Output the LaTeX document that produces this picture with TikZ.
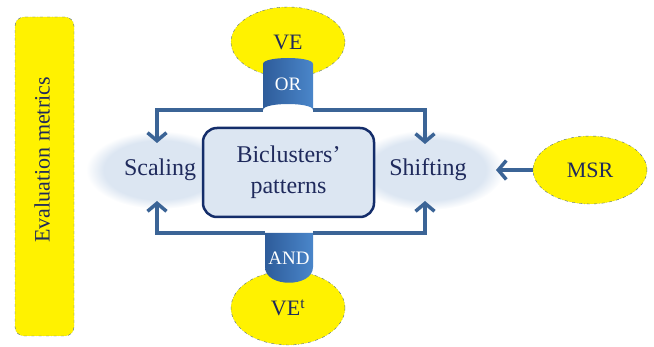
\documentclass[tikz,border=0pt]{standalone}
\usepackage{fontspec}
\setmainfont{Liberation Serif}
\usepackage{tikz}
\usetikzlibrary{shapes.geometric,arrows.meta,positioning}
\definecolor{navytext}{HTML}{1F2A5C}
\definecolor{flowblue}{HTML}{3B6496}
\definecolor{glowblue}{HTML}{DCE6F2}
\definecolor{tabdark}{HTML}{2E5C9A}
\definecolor{tablight}{HTML}{4A86CA}
\definecolor{boxnavy}{HTML}{142D6A}
\definecolor{rimgrey}{HTML}{4F6A8C}
\pgfdeclareradialshading{glow}{\pgfpoint{0bp}{0bp}}{color(0bp)=(glowblue); color(19bp)=(glowblue); color(25bp)=(white); color(50bp)=(white)}
\newcommand{\bigfont}{\fontsize{24}{31}\selectfont}
\newcommand{\midtext}[1]{{\fontsize{22}{25}\selectfont\color{navytext}#1}}
\newcommand{\tabtext}[1]{{\fontsize{19}{21}\selectfont\color{white}#1}}

\begin{document}
\begin{tikzpicture}[x=1pt,y=-1pt,
    yellowblob/.style={ellipse, draw=rimgrey, dash dot, fill=yellow, inner sep=0pt, outer sep=0pt},
    glowblob/.style={ellipse, shading=glow, inner sep=0pt, outer sep=0pt},
    flow/.style={draw=flowblue, line width=3.5pt, -{Straight Barb[length=8pt,width=19pt]}},
    tabbox/.style={minimum width=50pt, minimum height=52pt, inner sep=0pt, outer sep=0pt},
    ortab/.style={tabbox, path picture={\shade[left color=tabdark, right color=tablight]
        (path picture bounding box.south west) -- ([yshift=-6pt]path picture bounding box.north west)
        .. controls ([yshift=2pt]path picture bounding box.north west) and ([yshift=2pt]path picture bounding box.north east)
        .. ([yshift=-6pt]path picture bounding box.north east) -- (path picture bounding box.south east)
        .. controls ([yshift=8pt]path picture bounding box.south east) and ([yshift=8pt]path picture bounding box.south west)
        .. cycle;}},
    andtab/.style={tabbox, minimum width=48pt, minimum height=50pt, path picture={\shade[left color=tabdark, right color=tablight]
        (path picture bounding box.north west) -- ([yshift=16pt]path picture bounding box.south west)
        .. controls ([yshift=-5pt]path picture bounding box.south west) and ([yshift=-5pt]path picture bounding box.south east)
        .. ([yshift=16pt]path picture bounding box.south east) -- (path picture bounding box.north east) -- cycle;}}]
\useasboundingbox (0,0) rectangle (654,347);

% side panel
\node[draw=rimgrey, dash dot, fill=yellow, rounded corners=9pt, minimum width=59pt, minimum height=319pt] (metricsbox) at (44.5,176.5) {};
\node[rotate=90] (metrics) at (42,160) {\midtext{Evaluation metrics}};

% patterns in the middle
\node[glowblob, minimum width=148pt, minimum height=78pt] (scaling) at (160,170) {};
\node[glowblob, minimum width=152pt, minimum height=80pt] (shifting) at (428,170) {};
\node[draw=boxnavy, line width=2.5pt, fill=glowblue, rounded corners=14pt, minimum width=171pt, minimum height=89pt,
      align=center, font=\bigfont, text=navytext] (patterns) at (288.5,172.5) {Biclusters’\\patterns};
\node[font=\bigfont, text=navytext] at (scaling) {Scaling};
\node[font=\bigfont, text=navytext] at (shifting) {Shifting};

% metrics
\node[yellowblob, minimum width=114pt, minimum height=70pt] (ve) at (288,42) {\midtext{VE}};
\node[yellowblob, minimum width=114pt, minimum height=74pt] (vet) at (288,308) {\midtext{VE\textsuperscript{t}}};
\node[yellowblob, minimum width=114pt, minimum height=68pt] (msr) at (590,170) {\midtext{MSR}};

\node[ortab] (or) at (288,84) {\tabtext{OR}};
\node[andtab] (and) at (289,258) {\tabtext{AND}};

\draw[flow] (or.south west) -| ([xshift=-3pt,yshift=-12pt]scaling.north);
\draw[flow] (or.south east) -| ([xshift=-3pt,yshift=-14pt]shifting.north);
\draw[flow] (and.north west) -| ([xshift=-3pt,yshift=8pt]scaling.south);
\draw[flow] (and.north east) -| ([xshift=-3pt,yshift=9pt]shifting.south);
\draw[flow] (msr.west) -- ([xshift=-8pt]shifting.east);
\end{tikzpicture}
\end{document}
